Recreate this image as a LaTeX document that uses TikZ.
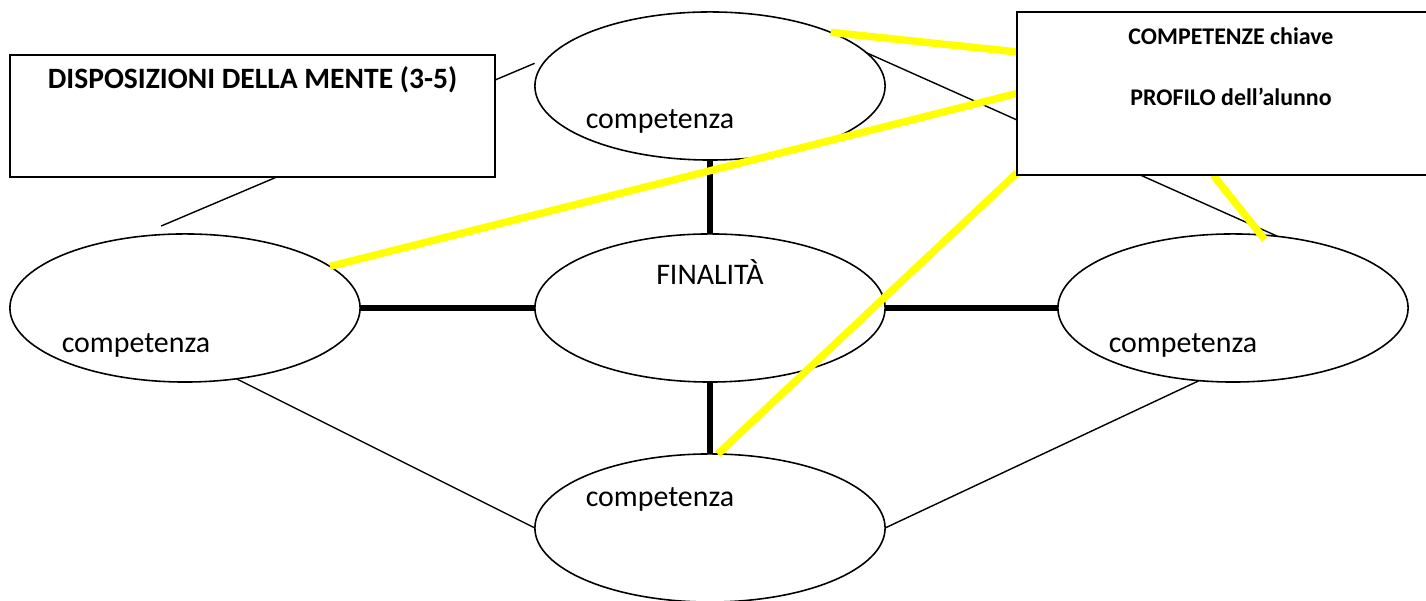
\documentclass[tikz,border=0pt]{standalone}
\usepackage{fontspec}
\setmainfont{Carlito}
\usetikzlibrary{shapes.geometric,calc}
\definecolor{hiy}{RGB}{255,255,0}
\pgfdeclarelayer{front}
\pgfsetlayers{main,front}
\begin{document}
\begin{tikzpicture}[x=0.01cm,y=-0.01cm,
  comp/.style={ellipse, draw, line width=0.45pt, minimum width=3.5cm, minimum height=1.48cm, inner sep=0pt, outer sep=0pt},
  boxnode/.style={rectangle, draw, line width=0.6pt, fill=white, inner sep=0pt, outer sep=0pt},
  lbl/.style={anchor=base, inner sep=0pt, font=\fontsize{8.5}{10}\selectfont},
  boxlbl/.style={anchor=base, inner sep=0pt},
  link/.style={line width=0.4pt},
  heavy/.style={line width=1.45pt},
  hilite/.style={line width=2.1pt, draw=hiy}]
\useasboundingbox (0,0) rectangle (1426,601);

% ellipses
\node[comp] (T) at (710,86) {};
\node[comp] (L) at (185,308) {};
\node[comp] (C) at (710,308) {};
\node[comp] (R) at (1233,308) {};
\node[comp] (B) at (710,528) {};

% ellipse labels
\node[lbl] (tT) at (660,129) {competenza};
\node[lbl] (tL) at (136,353) {competenza};
\node[lbl] (tR) at (1183,353) {competenza};
\node[lbl] (tB) at (660,507) {competenza};
\node[lbl] (tC) at (710,285) {FINALITÀ};

% boxes (front layer, they hide the lines passing behind)
\begin{pgfonlayer}{front}
\node[boxnode, minimum width=4.85cm, minimum height=1.22cm] (LB) at (252.5,116) {};
\node[boxnode, minimum width=4.28cm, minimum height=1.63cm] (RB) at (1231,93.5) {};
\node[boxlbl, font=\bfseries\fontsize{8.4}{10}\selectfont] (tLB) at (252.5,89) {DISPOSIZIONI DELLA MENTE (3-5)};
\node[boxlbl, font=\bfseries\fontsize{6.8}{8}\selectfont] (tRB1) at (1231,45) {COMPETENZE chiave};
\node[boxlbl, font=\bfseries\fontsize{6.8}{8}\selectfont] (tRB2) at (1231,106) {PROFILO dell’alunno};
\end{pgfonlayer}

% thin connectors
\draw[link, shorten >=0.15cm] ($(LB.north east)!0.205!(LB.south east)$) -- (T.170.8);
\draw[link, shorten >=0.28cm] ($(LB.south west)!0.55!(LB.south east)$) -- (L.125.7);
\draw[link] (T.12) -- (R.58.4);
\draw[link] (L.-54) -- (B.west);
\draw[link] (B.east) -- (R.245.8);

% heavy connectors
\draw[heavy] (T.south) -- (C.north);
\draw[heavy] (L.east) -- (C.west);
\draw[heavy] (C.east) -- (R.west);
\draw[heavy] (C.south) -- (B.north);

% yellow connectors
\draw[hilite] (T.24.6) -- ($(RB.north west)!0.245!(RB.south west)$);
\draw[hilite] (L.16.3) -- (RB.west);
\draw[hilite] (B.84.4) -- ($(RB.north west)!0.988!(RB.south west)$);
\draw[hilite, shorten >=-0.06cm] ($(RB.south west)!0.458!(RB.south east)$) -- (R.69.5);
\end{tikzpicture}
\end{document}
